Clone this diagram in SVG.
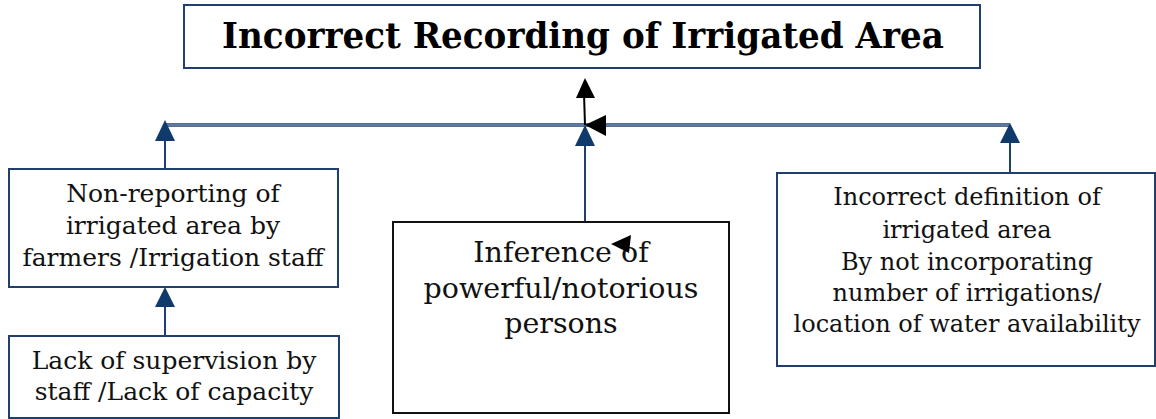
<svg xmlns="http://www.w3.org/2000/svg" width="1156" height="419" viewBox="0 0 1156 419">
<style>
.box{fill:#fff;stroke:#1f3f6e;stroke-width:2}
.bbox{fill:#fff;stroke:#111;stroke-width:2}
.t{font-family:"DejaVu Serif","Liberation Serif",serif;font-size:24px;fill:#111;text-anchor:middle}
.tl{font-family:"DejaVu Serif","Liberation Serif",serif;font-size:25px;fill:#111;text-anchor:middle}
.tm{font-family:"DejaVu Serif","Liberation Serif",serif;font-size:28.5px;fill:#111;text-anchor:middle}
.title{font-family:"DejaVu Serif","Liberation Serif",serif;font-size:35px;font-weight:bold;fill:#000;text-anchor:middle}
.ln{stroke:#1f3f6e;stroke-width:2;fill:none}
.hd{fill:#0f3a6b}
.bk{fill:#000}
</style>
<rect width="1156" height="419" fill="#fff"/>
<g id="connectors">
  <line x1="165" y1="125" x2="1010" y2="125" stroke="#1f3f6e" stroke-width="3.5"/>
  <line x1="165" y1="125" x2="1010" y2="125" stroke="#9fb4cf" stroke-width="1"/>
  <line class="ln" x1="165" y1="169" x2="165" y2="138"/>
  <polygon class="hd" points="165,120 155,141 175,141"/>
  <line class="ln" x1="165" y1="336" x2="165" y2="304"/>
  <polygon class="hd" points="165,287 155,307 175,307"/>
  <line class="ln" x1="585" y1="222" x2="585" y2="142"/>
  <polygon class="hd" points="585,125 575,146 595,146"/>
  <line class="ln" x1="1010" y1="173" x2="1010" y2="140"/>
  <polygon class="hd" points="1010,123 1000,143 1020,143"/>
  <line x1="585" y1="125" x2="584" y2="94" stroke="#000" stroke-width="2"/>
  <polygon class="bk" points="585,78 576,98 595,98"/>
  <polygon class="bk" points="585,125 606,115 606,136"/>
</g>
<g id="title">
  <rect class="box" x="184" y="5" width="796" height="63"/>
  <text class="title" x="583" y="48" textLength="722" lengthAdjust="spacingAndGlyphs">Incorrect Recording of Irrigated Area</text>
</g>
<g id="non-reporting">
  <rect class="box" x="9" y="169" width="329" height="118"/>
  <text class="tl" x="173" y="202">Non-reporting of</text>
  <text class="tl" x="173" y="234">irrigated area by</text>
  <text class="tl" x="173" y="266">farmers /Irrigation staff</text>
</g>
<g id="lack-supervision">
  <rect class="box" x="9" y="336" width="330" height="82"/>
  <text class="tl" x="174" y="369">Lack of supervision by</text>
  <text class="tl" x="174" y="400">staff /Lack of capacity</text>
</g>
<g id="inference">
  <rect class="bbox" x="393" y="222" width="336" height="191"/>
  <text class="tm" x="561" y="262">Inference of</text>
  <text class="tm" x="561" y="298">powerful/notorious</text>
  <text class="tm" x="561" y="333">persons</text>
  <polygon class="bk" points="611,244 631,235 629,253"/>
</g>
<g id="incorrect-definition">
  <rect class="box" x="777" y="173" width="378" height="193"/>
  <text class="t" x="967" y="205">Incorrect definition of</text>
  <text class="t" x="967" y="238">irrigated area</text>
  <text class="t" x="967" y="270">By not incorporating</text>
  <text class="t" x="967" y="301">number of irrigations/</text>
  <text class="t" x="967" y="332">location of water availability</text>
</g>
</svg>
